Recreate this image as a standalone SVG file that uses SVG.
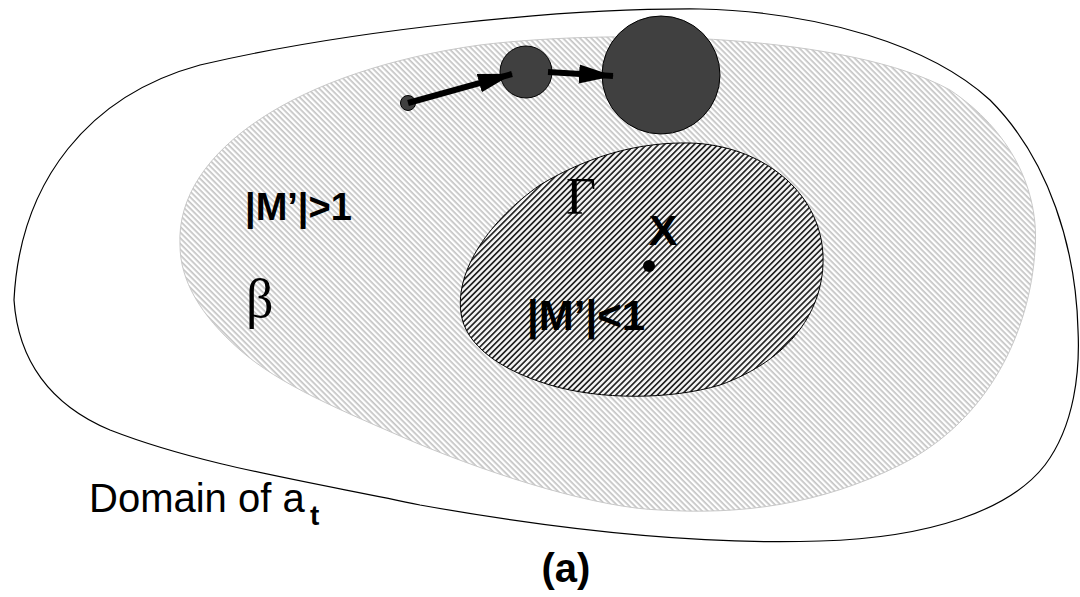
<svg xmlns="http://www.w3.org/2000/svg" width="1080" height="597" viewBox="0 0 1080 597">
<defs>
<pattern id="hatchLight" patternUnits="userSpaceOnUse" width="4" height="4" patternTransform="rotate(45)">
<rect width="4" height="4" fill="#ffffff"/>
<rect width="4" height="1.7" fill="#c4c4c4"/>
</pattern>
<pattern id="hatchDark" patternUnits="userSpaceOnUse" width="4.2" height="4.2" patternTransform="rotate(-45)">
<rect width="4.2" height="4.2" fill="#f4f4f4"/>
<rect width="4.2" height="1.7" fill="#262626"/>
</pattern>
<marker id="ah" markerUnits="userSpaceOnUse" markerWidth="36" markerHeight="20" refX="34" refY="9.5" orient="auto">
<path d="M0,0 L35,9.5 L0,19 Z" fill="#000"/>
</marker>
</defs>
<style>
.outer{fill:#fff;stroke:#000;stroke-width:1.2}
.light{fill:url(#hatchLight);stroke:#c8c8c8;stroke-width:1}
.dark{fill:url(#hatchDark);stroke:#000;stroke-width:1}
.ball{fill:#404040;stroke:#000;stroke-width:1}
.conn{stroke:#000;stroke-width:6;fill:none}
.bold{font-family:"Liberation Sans",Arial,sans-serif;font-weight:bold;fill:#000}
.reg{font-family:"Liberation Sans",Arial,sans-serif;fill:#000}
.greek{font-family:"Liberation Serif","Times New Roman",serif;fill:#000}
</style>
<rect width="1080" height="597" fill="#fff"/>
<g id="domain">
<path class="outer" d="M 14,300 C 18,360 50,405 110,430 C 200,465 300,480 420,505 C 560,530 700,545 820,541 C 930,538 1010,510 1045,465 C 1075,425 1080,370 1078,330 C 1076,250 1050,160 990,100 C 930,45 820,12 700,9 C 560,8 350,30 200,65 C 90,95 20,180 14,300 Z"/>
<text class="reg" x="89" y="512" font-size="40">Domain of a</text>
<text class="bold" x="310" y="525" font-size="28">t</text>
</g>
<g id="beta">
<path class="light" d="M 180,245 C 175,150 300,70 480,45 C 620,28 850,35 950,90 C 1010,130 1040,190 1035,250 C 1030,330 990,420 900,465 C 820,505 740,515 660,510 C 600,508 500,478 414,442 C 340,410 280,385 240,350 C 200,315 180,280 180,245 Z"/>
<text class="bold" x="245" y="220" font-size="38">|M’|&gt;1</text>
<text class="greek" x="246" y="317" font-size="54">β</text>
</g>
<g id="gamma">
<path class="dark" d="M 461,313 C 455,270 490,220 540,185 C 590,155 640,142 690,143 C 760,145 820,190 823,255 C 825,310 790,360 720,385 C 670,400 600,400 550,385 C 500,370 465,345 461,313 Z"/>
<text class="greek" x="566" y="214" font-size="52">Γ</text>
<text class="bold" x="527" y="330" font-size="42">|M’|&lt;1</text>
</g>
<g id="pointX">
<circle cx="649" cy="266" r="6" fill="#000"/>
<text class="bold" x="663" y="245" font-size="43" text-anchor="middle">X</text>
</g>
<g id="ball1"><circle class="ball" cx="408" cy="103" r="7.5"/></g>
<g id="ball2"><circle class="ball" cx="526" cy="72" r="26"/></g>
<g id="ball3"><circle class="ball" cx="661" cy="75" r="59"/></g>
<g id="connectors">
<line class="conn" x1="408" y1="103" x2="512" y2="74" marker-end="url(#ah)"/>
<line class="conn" x1="548" y1="72" x2="613" y2="76" marker-end="url(#ah)"/>
</g>
<text class="bold" x="566" y="582" font-size="40" text-anchor="middle">(a)</text>
</svg>
